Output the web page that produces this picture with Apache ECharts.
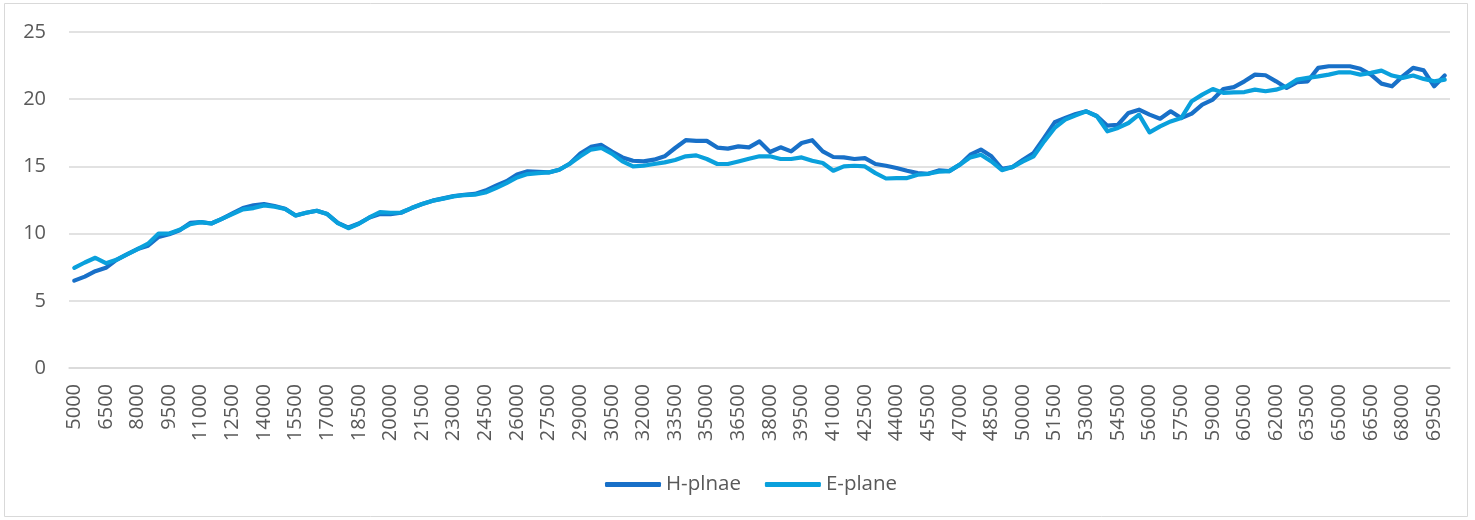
<!DOCTYPE html>
<html>
<head>
<meta charset="utf-8">
<script src="https://cdn.jsdelivr.net/npm/echarts@6/dist/echarts.min.js"></script>
<style>
html,body{margin:0;padding:0;background:#fff;}
#main{width:1475px;height:520px;}
</style>
</head>
<body>
<div id="main"></div>
<script>
// Categories: 5000 .. 70000 step 500 (131 values)
const categories = [];
for (let v = 5000; v <= 70000; v += 500) categories.push(String(v));

const hPlane = [
6.5,6.8,7.2,7.45,8.05,8.45,8.85,9.1,9.75,9.95,
10.25,10.8,10.85,10.75,11.1,11.5,11.9,12.1,12.2,12.05,
11.85,11.35,11.55,11.7,11.45,10.8,10.45,10.75,11.2,11.45,
11.45,11.55,11.9,12.2,12.45,12.62,12.8,12.88,12.95,13.2,
13.56,13.9,14.4,14.63,14.6,14.55,14.75,15.2,15.95,16.45,
16.6,16.1,15.67,15.42,15.37,15.5,15.75,16.37,16.95,16.9,
16.9,16.4,16.32,16.49,16.42,16.86,16.07,16.42,16.12,16.74,
16.95,16.12,15.7,15.67,15.55,15.62,15.18,15.05,14.88,14.68,
14.5,14.45,14.7,14.65,15.13,15.87,16.25,15.75,14.82,14.95,
15.5,16.0,17.12,18.28,18.6,18.9,19.1,18.75,18.03,18.1,
18.98,19.22,18.85,18.55,19.1,18.6,18.93,19.6,19.97,20.76,
20.9,21.33,21.83,21.78,21.33,20.84,21.26,21.33,22.33,22.45,
22.45,22.45,22.26,21.83,21.16,20.96,21.7,22.33,22.15,20.96,
21.76
];

const ePlane = [
7.45,7.85,8.2,7.8,8.05,8.45,8.84,9.25,10.0,10.0,
10.28,10.7,10.85,10.75,11.1,11.45,11.8,11.9,12.1,12.0,
11.83,11.35,11.55,11.7,11.45,10.78,10.4,10.73,11.2,11.6,
11.55,11.57,11.9,12.2,12.44,12.6,12.77,12.87,12.9,13.06,
13.39,13.76,14.18,14.43,14.5,14.55,14.75,15.2,15.75,16.25,
16.37,15.95,15.37,15.0,15.05,15.18,15.3,15.48,15.75,15.82,
15.55,15.18,15.18,15.37,15.57,15.75,15.75,15.55,15.55,15.67,
15.42,15.25,14.68,15.0,15.05,15.0,14.5,14.1,14.13,14.13,
14.38,14.45,14.6,14.65,15.13,15.67,15.87,15.37,14.72,14.95,
15.37,15.75,16.86,17.86,18.48,18.8,19.1,18.73,17.61,17.86,
18.23,18.85,17.53,17.98,18.35,18.6,19.85,20.34,20.76,20.47,
20.51,20.53,20.71,20.59,20.71,20.96,21.46,21.59,21.7,21.83,
22.0,22.0,21.83,21.96,22.13,21.76,21.59,21.76,21.51,21.33,
21.46
];

const seriesNames = ['H-plnae', 'E-plane'];
const colors = ['#1870C8', '#0AA0DC'];

const chart = echarts.init(document.getElementById('main'), null, {renderer: 'canvas'});
const font = '"Open Sans", "Noto Sans", sans-serif';
chart.setOption({
  animation: false,
  color: colors,
  textStyle: {fontFamily: font},
  graphic: [{
    type: 'rect',
    shape: {x: 4.5, y: 3.5, width: 1463, height: 513},
    style: {fill: 'none', stroke: '#d9d9d9', lineWidth: 1},
    silent: true
  }],
  grid: {left: 69, right: 25, top: 32, bottom: 152, containLabel: false},
  legend: {
    bottom: 20,
    left: 600,
    icon: 'roundRect',
    itemWidth: 56,
    itemHeight: 5,
    itemGap: 24,
    textStyle: {color: '#595959', fontSize: 20.5, fontFamily: font},
    data: seriesNames
  },
  xAxis: {
    type: 'category',
    data: categories,
    boundaryGap: true,
    axisLine: {show: true, lineStyle: {color: '#d9d9d9', width: 1.5}},
    axisTick: {show: false},
    axisLabel: {
      interval: 2,
      rotate: 90,
      margin: 16,
      color: '#595959',
      fontSize: 20,
      fontFamily: font
    }
  },
  yAxis: {
    type: 'value',
    min: 0,
    max: 25,
    interval: 5,
    axisLine: {show: false},
    axisTick: {show: false},
    splitLine: {lineStyle: {color: '#d9d9d9', width: 1.5}},
    axisLabel: {color: '#595959', fontSize: 20, fontFamily: font, margin: 23}
  },
  series: [
    {
      name: seriesNames[0], type: 'line', data: hPlane,
      showSymbol: false, symbol: 'none',
      lineStyle: {width: 4.2, color: colors[0], cap: 'round', join: 'round'},
      itemStyle: {color: colors[0]}
    },
    {
      name: seriesNames[1], type: 'line', data: ePlane,
      showSymbol: false, symbol: 'none',
      lineStyle: {width: 4.2, color: colors[1], cap: 'round', join: 'round'},
      itemStyle: {color: colors[1]}
    }
  ]
});
</script>
</body>
</html>
